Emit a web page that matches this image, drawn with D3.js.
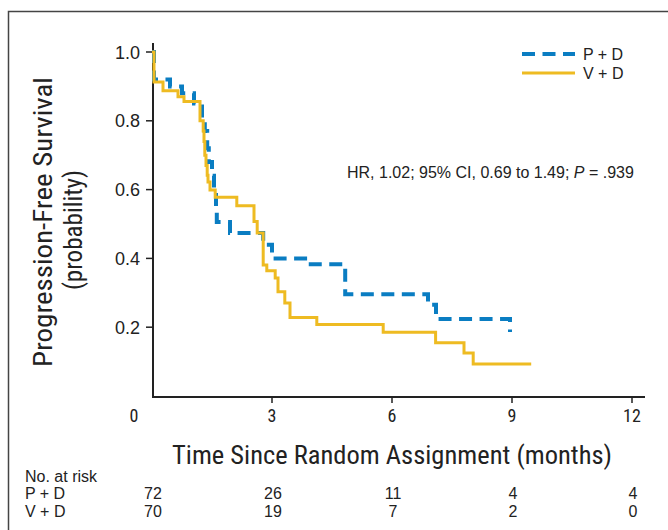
<!DOCTYPE html>
<html><head><meta charset="utf-8">
<script src="https://cdn.jsdelivr.net/npm/d3@7"></script>
<style>
body{margin:0;background:#fff;}
svg{display:block;}
.cond{font-family:"Liberation Sans Narrow","Roboto Condensed","DejaVu Sans Condensed",sans-serif;}
.reg{font-family:"Liberation Sans",Arial,Helvetica,sans-serif;}
</style></head>
<body>
<svg id="chart" width="668" height="530"></svg>
<script>
// ---- data ----
const pdTime = [0, 0.05, 0.45, 0.75, 1.05, 1.25, 1.32, 1.38, 1.42, 1.5, 1.55, 1.6, 1.62, 1.95, 2.78, 3.0, 3.9, 4.83, 6.9, 7.1, 8.95];
const pdSurv = [1.0, 0.92, 0.90, 0.88, 0.85, 0.80, 0.77, 0.72, 0.68, 0.64, 0.60, 0.55, 0.506, 0.474, 0.44, 0.40, 0.383, 0.296, 0.265, 0.224, 0.186];
const vdTime = [0, 0.05, 0.275, 0.65, 0.8, 1.2, 1.28, 1.3, 1.32, 1.35, 1.38, 1.4, 1.45, 1.58, 2.12, 2.55, 2.63, 2.78, 2.87, 3.08, 3.15, 3.32, 3.45, 4.12, 5.78, 7.09, 7.8, 8.03, 9.48];
const vdSurv = [1.0, 0.913, 0.887, 0.87, 0.856, 0.80, 0.77, 0.74, 0.70, 0.67, 0.642, 0.622, 0.599, 0.578, 0.553, 0.507, 0.474, 0.381, 0.364, 0.343, 0.303, 0.27, 0.228, 0.208, 0.185, 0.155, 0.125, 0.093, 0.093];
const xTicks = [0, 3, 6, 9, 12];
const yTicks = [0.2, 0.4, 0.6, 0.8, 1.0];
const seriesNames = ["P + D", "V + D"];
const atRiskPD = [72, 26, 11, 4, 4];
const atRiskVD = [70, 19, 7, 2, 0];
const colors = {pd: "#0a7dc2", vd: "#eebb22"};

const svg = d3.select("#chart");
const x = d3.scaleLinear().domain([0, 12]).range([152, 632]);
const y = d3.scaleLinear().domain([0, 1]).range([396, 52]);

// frame
svg.append("path").attr("d", "M8.5,531 L8.5,11.5 L669,11.5")
  .attr("fill", "none").attr("stroke", "#444").attr("stroke-width", 1.5);

// axes
svg.append("line").attr("x1", 153).attr("x2", 153).attr("y1", 43).attr("y2", 397.5)
  .attr("stroke", "#222").attr("stroke-width", 2);
svg.append("line").attr("x1", 152).attr("x2", 645).attr("y1", 397).attr("y2", 397)
  .attr("stroke", "#222").attr("stroke-width", 2);

// y ticks
const yg = svg.append("g");
yTicks.forEach(v => {
  yg.append("line").attr("x1", 146).attr("x2", 153).attr("y1", y(v)).attr("y2", y(v))
    .attr("stroke", "#222").attr("stroke-width", 1.5);
  yg.append("text").attr("class", "reg").attr("x", 140).attr("y", y(v) + 6.5)
    .attr("text-anchor", "end").attr("font-size", 18).attr("fill", "#222")
    .text(d3.format(".1f")(v));
});

// x ticks
const xg = svg.append("g");
xTicks.forEach(v => {
  if (v > 0) xg.append("line").attr("x1", x(v)).attr("x2", x(v)).attr("y1", 397).attr("y2", 403)
    .attr("stroke", "#222").attr("stroke-width", 1.5);
  xg.append("text").attr("class", "cond").attr("x", v === 0 ? x(v) - 18 : x(v)).attr("y", 422)
    .attr("text-anchor", "middle").attr("font-size", 18).attr("fill", "#222").text(v);
});

// curves
const line = d3.line().x(d => x(d[0])).y(d => y(d[1])).curve(d3.curveStepAfter);
const pdData = pdTime.map((t, i) => [t, pdSurv[i]]);
const vdData = vdTime.map((t, i) => [t, vdSurv[i]]);
svg.append("path").attr("d", line(pdData)).attr("fill", "none")
  .attr("stroke", colors.pd).attr("stroke-width", 4).attr("stroke-dasharray", "13,7.5");
svg.append("path").attr("d", line(vdData)).attr("fill", "none")
  .attr("stroke", colors.vd).attr("stroke-width", 3);

// legend
const leg = svg.append("g");
leg.append("line").attr("x1", 522).attr("x2", 575).attr("y1", 54).attr("y2", 54)
  .attr("stroke", colors.pd).attr("stroke-width", 4).attr("stroke-dasharray", "13,7.5");
leg.append("line").attr("x1", 522).attr("x2", 575).attr("y1", 73).attr("y2", 73)
  .attr("stroke", colors.vd).attr("stroke-width", 3);
leg.append("text").attr("class", "reg").attr("x", 583).attr("y", 59.5).attr("font-size", 16)
  .attr("fill", "#222").text(seriesNames[0]);
leg.append("text").attr("class", "reg").attr("x", 583).attr("y", 78.5).attr("font-size", 16)
  .attr("fill", "#222").text(seriesNames[1]);

// annotation
const ann = svg.append("text").attr("class", "reg").attr("x", 347).attr("y", 177.5)
  .attr("font-size", 16).attr("fill", "#222");
ann.append("tspan").text("HR, 1.02; 95% CI, 0.69 to 1.49; ");
ann.append("tspan").attr("font-style", "italic").text("P");
ann.append("tspan").text(" = .939");

// axis titles
svg.append("text").attr("class", "cond")
  .attr("transform", "translate(52,222) rotate(-90)")
  .attr("text-anchor", "middle").attr("font-size", 25).attr("fill", "#222")
  .attr("textLength", 290).attr("lengthAdjust", "spacingAndGlyphs")
  .text("Progression-Free Survival");
svg.append("text").attr("class", "cond")
  .attr("transform", "translate(82,230) rotate(-90)")
  .attr("text-anchor", "middle").attr("font-size", 25).attr("fill", "#222")
  .attr("textLength", 120).attr("lengthAdjust", "spacingAndGlyphs")
  .text("(probability)");
svg.append("text").attr("class", "cond").attr("x", 392).attr("y", 464)
  .attr("text-anchor", "middle").attr("font-size", 25).attr("fill", "#222")
  .attr("textLength", 440).attr("lengthAdjust", "spacingAndGlyphs")
  .text("Time Since Random Assignment (months)");

// at-risk table
const rt = svg.append("g").attr("class", "reg").attr("fill", "#222").attr("font-size", 16);
rt.append("text").attr("x", 25).attr("y", 482).text("No. at risk");
rt.append("text").attr("x", 25).attr("y", 499).text(seriesNames[0]);
rt.append("text").attr("x", 25).attr("y", 516.5).text(seriesNames[1]);
xTicks.forEach((v, i) => {
  rt.append("text").attr("x", x(v) + 1).attr("y", 499).attr("text-anchor", "middle").text(atRiskPD[i]);
  rt.append("text").attr("x", x(v) + 1).attr("y", 516.5).attr("text-anchor", "middle").text(atRiskVD[i]);
});
</script>
</body></html>
